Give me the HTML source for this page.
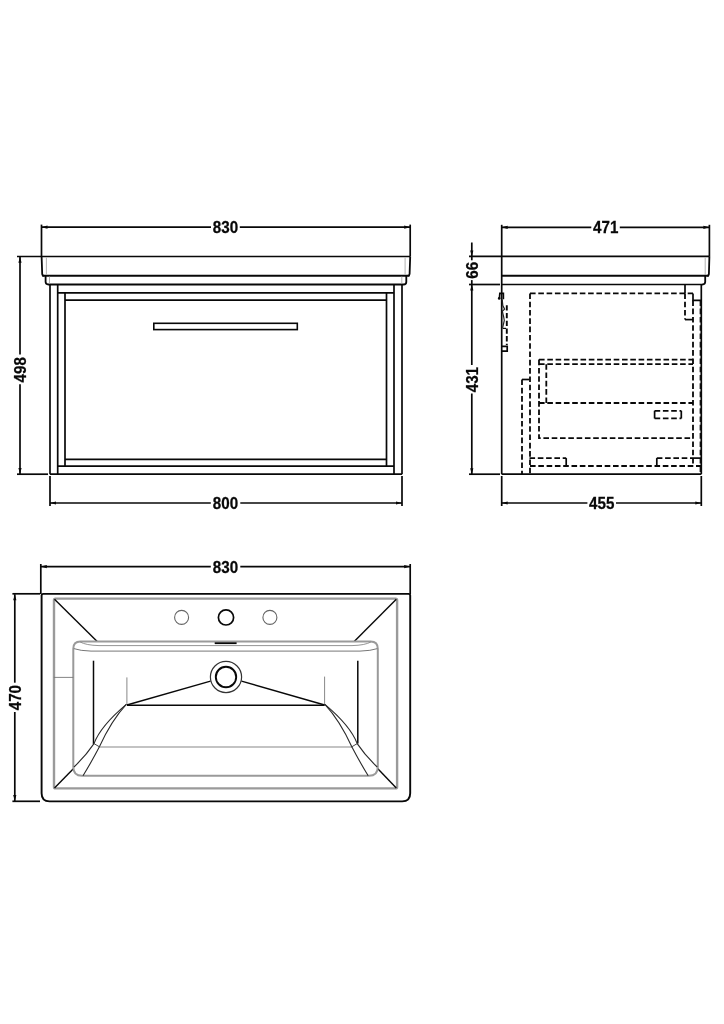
<!DOCTYPE html>
<html><head><meta charset="utf-8"><style>
html,body{margin:0;padding:0;background:#fff;}
body{width:724px;height:1024px;overflow:hidden;}
svg{display:block;will-change:transform;font-family:"Liberation Sans",sans-serif;}
</style></head><body>
<svg width="724" height="1024" viewBox="0 0 724 1024">
<rect width="724" height="1024" fill="#fff"/>
<line x1="41.5" y1="227.2" x2="211" y2="227.2" stroke="#080808" stroke-width="1.7" />
<line x1="239.8" y1="227.2" x2="410.2" y2="227.2" stroke="#080808" stroke-width="1.7" />
<polygon points="41.50,227.20 47.50,225.60 47.50,228.80" fill="#080808"/>
<polygon points="410.20,227.20 404.20,225.60 404.20,228.80" fill="#080808"/>
<text transform="translate(225.5,227.2) scale(0.96,1)" x="0" y="5.5" text-anchor="middle" font-size="15.8" font-weight="bold" fill="#080808" stroke="#080808" stroke-width="0.25">830</text>
<line x1="41.5" y1="224.6" x2="41.5" y2="256.5" stroke="#080808" stroke-width="1.7" />
<line x1="410.2" y1="224.6" x2="410.2" y2="256.5" stroke="#080808" stroke-width="1.7" />
<path d="M17,256.5 H410.2" fill="none" stroke="#080808" stroke-width="1.7" />
<path d="M41.6,256.5 L42.2,274 Q42.3,275.7 44,275.7" fill="none" stroke="#080808" stroke-width="1.8" />
<path d="M410.2,256.5 L409.6,274 Q409.5,275.7 407.8,275.7" fill="none" stroke="#080808" stroke-width="1.8" />
<path d="M42.3,275.7 H409.5" fill="none" stroke="#080808" stroke-width="2.0" />
<line x1="46.4" y1="257.6" x2="46.4" y2="274.6" stroke="#a8a8a8" stroke-width="0.9" />
<line x1="405.1" y1="257.6" x2="405.1" y2="274.6" stroke="#a8a8a8" stroke-width="0.9" />
<path d="M45.6,275.8 V282 Q45.8,284.5 48.4,284.5 H403.6 Q406.3,284.5 406.3,282 V275.8" fill="none" stroke="#080808" stroke-width="1.8" />
<line x1="49.5" y1="276.6" x2="49.5" y2="283.6" stroke="#a8a8a8" stroke-width="0.9" />
<line x1="401.8" y1="276.6" x2="401.8" y2="283.6" stroke="#a8a8a8" stroke-width="0.9" />
<line x1="50" y1="284.6" x2="50" y2="474.2" stroke="#080808" stroke-width="1.7" />
<line x1="402" y1="284.6" x2="402" y2="474.2" stroke="#080808" stroke-width="1.7" />
<line x1="57.7" y1="284.6" x2="57.7" y2="474.2" stroke="#080808" stroke-width="1.7" />
<line x1="394" y1="284.6" x2="394" y2="474.2" stroke="#080808" stroke-width="1.7" />
<line x1="17" y1="474.2" x2="48" y2="474.2" stroke="#080808" stroke-width="1.7" />
<line x1="50" y1="474.2" x2="402" y2="474.2" stroke="#080808" stroke-width="1.7" />
<line x1="57.7" y1="292.9" x2="394" y2="292.9" stroke="#080808" stroke-width="1.7" />
<line x1="57.7" y1="466.2" x2="394" y2="466.2" stroke="#080808" stroke-width="1.7" />
<line x1="65" y1="292.9" x2="65" y2="466.2" stroke="#080808" stroke-width="1.7" />
<line x1="386.5" y1="292.9" x2="386.5" y2="466.2" stroke="#080808" stroke-width="1.7" />
<line x1="65" y1="300.1" x2="386.5" y2="300.1" stroke="#080808" stroke-width="1.7" />
<line x1="65" y1="459.3" x2="386.5" y2="459.3" stroke="#080808" stroke-width="1.7" />
<rect x="153.8" y="323.3" width="143.5" height="6.3" fill="none" stroke="#080808" stroke-width="1.6"/>
<line x1="20" y1="256.8" x2="20" y2="354.5" stroke="#080808" stroke-width="1.7" />
<line x1="20" y1="384.2" x2="20" y2="474" stroke="#080808" stroke-width="1.7" />
<polygon points="20.00,256.80 18.40,262.80 21.60,262.80" fill="#080808"/>
<polygon points="20.00,474.00 18.40,468.00 21.60,468.00" fill="#080808"/>
<text transform="translate(20.1,369.8) rotate(-90) scale(0.96,1)" x="0" y="5.5" text-anchor="middle" font-size="15.8" font-weight="bold" fill="#080808" stroke="#080808" stroke-width="0.25">498</text>
<line x1="50" y1="503" x2="210.8" y2="503" stroke="#080808" stroke-width="1.7" />
<line x1="240.3" y1="503" x2="402" y2="503" stroke="#080808" stroke-width="1.7" />
<polygon points="50.00,503.00 56.00,501.40 56.00,504.60" fill="#080808"/>
<polygon points="402.00,503.00 396.00,501.40 396.00,504.60" fill="#080808"/>
<text transform="translate(225.5,503.9) scale(0.96,1)" x="0" y="5.5" text-anchor="middle" font-size="15.8" font-weight="bold" fill="#080808" stroke="#080808" stroke-width="0.25">800</text>
<line x1="50" y1="476" x2="50" y2="506" stroke="#080808" stroke-width="1.7" />
<line x1="402" y1="476" x2="402" y2="506" stroke="#080808" stroke-width="1.7" />
<line x1="501.7" y1="227.3" x2="591.3" y2="227.3" stroke="#080808" stroke-width="1.7" />
<line x1="619.8" y1="227.3" x2="709.4" y2="227.3" stroke="#080808" stroke-width="1.7" />
<polygon points="501.70,227.30 507.70,225.70 507.70,228.90" fill="#080808"/>
<polygon points="709.40,227.30 703.40,225.70 703.40,228.90" fill="#080808"/>
<text transform="translate(605.7,227.0) scale(0.96,1)" x="0" y="5.5" text-anchor="middle" font-size="15.8" font-weight="bold" fill="#080808" stroke="#080808" stroke-width="0.25">471</text>
<line x1="501.7" y1="224.8" x2="501.7" y2="474.2" stroke="#080808" stroke-width="1.7" />
<line x1="709.4" y1="224.8" x2="709.4" y2="256.5" stroke="#080808" stroke-width="1.7" />
<path d="M469,256.4 H709.4" fill="none" stroke="#080808" stroke-width="1.7" />
<path d="M709.4,256.4 L708.9,274 Q708.8,275.7 707,275.7" fill="none" stroke="#080808" stroke-width="1.8" />
<line x1="705.2" y1="257.6" x2="705.2" y2="274.6" stroke="#a8a8a8" stroke-width="0.9" />
<path d="M501.7,275.7 H708.8" fill="none" stroke="#080808" stroke-width="2.0" />
<path d="M705.2,275.8 V282 Q705,284.5 702.5,284.5" fill="none" stroke="#080808" stroke-width="1.8" />
<line x1="469" y1="284.5" x2="500" y2="284.5" stroke="#080808" stroke-width="1.7" />
<line x1="501.7" y1="284.5" x2="703" y2="284.5" stroke="#080808" stroke-width="1.7" />
<line x1="701.3" y1="284.5" x2="701.3" y2="474.2" stroke="#080808" stroke-width="1.7" />
<line x1="469" y1="474.2" x2="500" y2="474.2" stroke="#080808" stroke-width="1.7" />
<line x1="501.7" y1="474.2" x2="701.3" y2="474.2" stroke="#080808" stroke-width="1.7" />
<line x1="501.7" y1="476" x2="501.7" y2="506" stroke="#080808" stroke-width="1.7" />
<line x1="701.3" y1="476" x2="701.3" y2="506" stroke="#080808" stroke-width="1.7" />
<line x1="501.7" y1="503" x2="587.4" y2="503" stroke="#080808" stroke-width="1.7" />
<line x1="616" y1="503" x2="701.3" y2="503" stroke="#080808" stroke-width="1.7" />
<polygon points="501.70,503.00 507.70,501.40 507.70,504.60" fill="#080808"/>
<polygon points="701.30,503.00 695.30,501.40 695.30,504.60" fill="#080808"/>
<text transform="translate(601.7,503.8) scale(0.96,1)" x="0" y="5.5" text-anchor="middle" font-size="15.8" font-weight="bold" fill="#080808" stroke="#080808" stroke-width="0.25">455</text>
<line x1="471.8" y1="242.5" x2="471.8" y2="260.3" stroke="#080808" stroke-width="1.7" />
<polygon points="471.80,256.40 470.20,250.40 473.40,250.40" fill="#080808"/>
<line x1="471.8" y1="280.1" x2="471.8" y2="365" stroke="#080808" stroke-width="1.7" />
<line x1="471.8" y1="393.5" x2="471.8" y2="474.2" stroke="#080808" stroke-width="1.7" />
<polygon points="471.80,284.60 470.20,290.60 473.40,290.60" fill="#080808"/>
<polygon points="471.80,474.20 470.20,468.20 473.40,468.20" fill="#080808"/>
<text transform="translate(472.6,270.2) rotate(-90) scale(0.96,1)" x="0" y="5.5" text-anchor="middle" font-size="15.8" font-weight="bold" fill="#080808" stroke="#080808" stroke-width="0.25">66</text>
<text transform="translate(472.6,379.6) rotate(-90) scale(0.96,1)" x="0" y="5.5" text-anchor="middle" font-size="15.8" font-weight="bold" fill="#080808" stroke="#080808" stroke-width="0.25">431</text>
<path d="M530,293.4 H693" fill="none" stroke="#080808" stroke-width="1.8" stroke-dasharray="5.6,2.7"/>
<path d="M530,293.4 V474" fill="none" stroke="#080808" stroke-width="1.8" stroke-dasharray="5.6,2.7"/>
<path d="M685,284.5 V293.4" fill="none" stroke="#080808" stroke-width="1.7" />
<path d="M685,293.4 V319.6" fill="none" stroke="#080808" stroke-width="1.8" stroke-dasharray="5.6,2.7"/>
<path d="M685,319.6 H693" fill="none" stroke="#080808" stroke-width="1.7" />
<path d="M693,293.4 V300.3 H701.3" fill="none" stroke="#080808" stroke-width="1.7" />
<path d="M693,300.3 V466" fill="none" stroke="#080808" stroke-width="1.8" stroke-dasharray="5.6,2.7"/>
<path d="M700.3,300.3 V474" fill="none" stroke="#080808" stroke-width="1.3" stroke-dasharray="5.6,2.7"/>
<path d="M539,359.6 H693" fill="none" stroke="#080808" stroke-width="1.8" stroke-dasharray="5.6,2.7"/>
<path d="M539,359.6 V438.2 H693" fill="none" stroke="#080808" stroke-width="1.8" stroke-dasharray="5.6,2.7"/>
<path d="M539,364.2 H693" fill="none" stroke="#080808" stroke-width="1.8" stroke-dasharray="5.6,2.7"/>
<path d="M546.3,364.2 V403" fill="none" stroke="#080808" stroke-width="1.8" stroke-dasharray="5.6,2.7"/>
<path d="M539,403 H693" fill="none" stroke="#080808" stroke-width="1.8" stroke-dasharray="5.6,2.7"/>
<path d="M654.6,410.8 H681.3" fill="none" stroke="#080808" stroke-width="1.7" stroke-dasharray="5.6,2.7"/>
<path d="M654.6,418.4 H681.3" fill="none" stroke="#080808" stroke-width="1.7" stroke-dasharray="5.6,2.7"/>
<path d="M654.6,410.8 V418.4 M681.3,410.8 V418.4" fill="none" stroke="#080808" stroke-width="1.7" />
<path d="M522,379.5 H529.5" fill="none" stroke="#080808" stroke-width="1.7" />
<path d="M522,379.5 V474" fill="none" stroke="#080808" stroke-width="1.8" stroke-dasharray="5.6,2.7"/>
<path d="M529.5,458.1 H566.2" fill="none" stroke="#080808" stroke-width="1.8" stroke-dasharray="5.6,2.7"/>
<path d="M566.2,458.1 V466" fill="none" stroke="#080808" stroke-width="1.7" />
<path d="M656.8,466 V458.1" fill="none" stroke="#080808" stroke-width="1.7" />
<path d="M656.8,458.1 H693" fill="none" stroke="#080808" stroke-width="1.8" stroke-dasharray="5.6,2.7"/>
<path d="M693,458.1 H701" fill="none" stroke="#080808" stroke-width="1.7" />
<path d="M530,466 H701" fill="none" stroke="#080808" stroke-width="1.8" stroke-dasharray="5.6,2.7"/>
<path d="M499.4,298.6 L499.8,293.4 H503.4 V299.2" fill="none" stroke="#080808" stroke-width="1.6" />
<circle cx="499.2" cy="298.4" r="1.3" fill="#080808"/>
<path d="M502.2,299.5 L502.8,305.5 L504.6,309.2 L502.3,311.2 L503.6,316.5 L504.3,320.5 L502.6,327.8" fill="none" stroke="#222" stroke-width="1.2" />
<path d="M506.8,305.3 V345" fill="none" stroke="#080808" stroke-width="1.9" stroke-dasharray="5.3,2.4"/>
<path d="M502.6,328.4 H506" fill="none" stroke="#080808" stroke-width="1.2" />
<path d="M502,346.4 H507.2 V351.2 H502" fill="none" stroke="#080808" stroke-width="1.7" />
<line x1="40.8" y1="566.6" x2="210.8" y2="566.6" stroke="#080808" stroke-width="1.7" />
<line x1="240.3" y1="566.6" x2="410.2" y2="566.6" stroke="#080808" stroke-width="1.7" />
<polygon points="40.80,566.60 46.80,565.00 46.80,568.20" fill="#080808"/>
<polygon points="410.20,566.60 404.20,565.00 404.20,568.20" fill="#080808"/>
<text transform="translate(225.5,567.1) scale(0.96,1)" x="0" y="5.5" text-anchor="middle" font-size="15.8" font-weight="bold" fill="#080808" stroke="#080808" stroke-width="0.25">830</text>
<line x1="40.8" y1="564" x2="40.8" y2="594" stroke="#080808" stroke-width="1.7" />
<line x1="410.2" y1="564" x2="410.2" y2="594" stroke="#080808" stroke-width="1.7" />
<path d="M41.6,595.6 Q41.6,593.9 43.3,593.9 H408.5 Q410.2,593.9 410.2,595.6 V793.3 Q410.2,801.4 402.2,801.4 H49.6 Q41.6,801.4 41.6,793.3 Z" fill="none" stroke="#080808" stroke-width="1.9" />
<line x1="12.4" y1="593.8" x2="40" y2="593.8" stroke="#080808" stroke-width="1.7" />
<line x1="12.4" y1="801.3" x2="40" y2="801.3" stroke="#080808" stroke-width="1.7" />
<line x1="14.8" y1="594.2" x2="14.8" y2="682.7" stroke="#080808" stroke-width="1.7" />
<line x1="14.8" y1="712" x2="14.8" y2="801" stroke="#080808" stroke-width="1.7" />
<polygon points="14.80,594.20 13.20,600.20 16.40,600.20" fill="#080808"/>
<polygon points="14.80,801.00 13.20,795.00 16.40,795.00" fill="#080808"/>
<text transform="translate(15.5,697.6) rotate(-90) scale(0.96,1)" x="0" y="5.5" text-anchor="middle" font-size="15.8" font-weight="bold" fill="#080808" stroke="#080808" stroke-width="0.25">470</text>
<rect x="54" y="598.6" width="343.1" height="189.8" rx="1.5" fill="none" stroke="#9a9a9a" stroke-width="2.4"/>
<line x1="54.5" y1="599.2" x2="97.2" y2="641.6" stroke="#080808" stroke-width="1.4" />
<line x1="396.3" y1="599.2" x2="354.2" y2="641.6" stroke="#080808" stroke-width="1.4" />
<line x1="54.5" y1="788" x2="73.6" y2="768.6" stroke="#080808" stroke-width="1.4" />
<line x1="396.3" y1="788" x2="377.6" y2="768.6" stroke="#080808" stroke-width="1.4" />
<path d="M73.3,767 V648.8 Q73.3,641.6 80.5,641.6 H370.6 Q377.8,641.6 377.8,648.8 V767 Q377.8,775.8 369,775.8 H82 Q73.3,775.8 73.3,767" fill="none" stroke="#9a9a9a" stroke-width="2.0" />
<path d="M73.8,648.6 Q80,650.8 91,651.1 H360 Q371,650.8 377.4,648.6" fill="none" stroke="#777" stroke-width="1.0" />
<path d="M80,641.9 Q86,645.3 99,645.6 H352 Q365,645.3 371,641.9" fill="none" stroke="#888" stroke-width="0.9" />
<line x1="214.7" y1="643.2" x2="236.6" y2="643.2" stroke="#080808" stroke-width="1.8" />
<circle cx="181.6" cy="617.4" r="7" fill="none" stroke="#666" stroke-width="1.1"/>
<circle cx="269.9" cy="617.4" r="7" fill="none" stroke="#666" stroke-width="1.1"/>
<circle cx="226" cy="617.4" r="7.6" fill="none" stroke="#080808" stroke-width="1.7"/>
<circle cx="226" cy="677" r="15.6" fill="none" stroke="#333" stroke-width="1.2"/>
<circle cx="226" cy="677" r="10.2" fill="none" stroke="#080808" stroke-width="1.9"/>
<line x1="93.5" y1="660.7" x2="93.5" y2="744" stroke="#080808" stroke-width="1.5" />
<line x1="357.8" y1="660.7" x2="357.8" y2="743.6" stroke="#080808" stroke-width="1.5" />
<line x1="126.9" y1="677.4" x2="126.9" y2="705" stroke="#888" stroke-width="1.0" />
<line x1="324.6" y1="676.6" x2="324.6" y2="705" stroke="#888" stroke-width="1.0" />
<line x1="126.9" y1="705.2" x2="324.6" y2="705.2" stroke="#080808" stroke-width="1.5" />
<line x1="126.9" y1="705" x2="210.5" y2="681.2" stroke="#080808" stroke-width="1.4" />
<line x1="324.6" y1="705" x2="241.5" y2="681.2" stroke="#080808" stroke-width="1.4" />
<line x1="99.4" y1="747" x2="352" y2="747" stroke="#888" stroke-width="1.1" />
<line x1="53.8" y1="677.4" x2="73.3" y2="677.4" stroke="#777" stroke-width="0.9" />
<path d="M126.3,704.4 Q100.7,726 94,743.6 Q86,755.5 74,767" fill="none" stroke="#2a2a2a" stroke-width="1.1" />
<path d="M126.3,704.4 Q111.4,720.5 99.4,746.8 Q92,761 83,775.8" fill="none" stroke="#2a2a2a" stroke-width="1.1" />
<line x1="94" y1="743.6" x2="99.4" y2="746.8" stroke="#444" stroke-width="1.0" />
<path d="M324.9,704.4 Q350.5,726 357.2,743.6 Q365.2,755.5 377.2,767" fill="none" stroke="#2a2a2a" stroke-width="1.1" />
<path d="M324.9,704.4 Q339.8,720.5 351.8,746.8 Q359.2,761 368.2,775.8" fill="none" stroke="#2a2a2a" stroke-width="1.1" />
<line x1="357.2" y1="743.6" x2="351.8" y2="746.8" stroke="#444" stroke-width="1.0" />
</svg>
</body></html>
